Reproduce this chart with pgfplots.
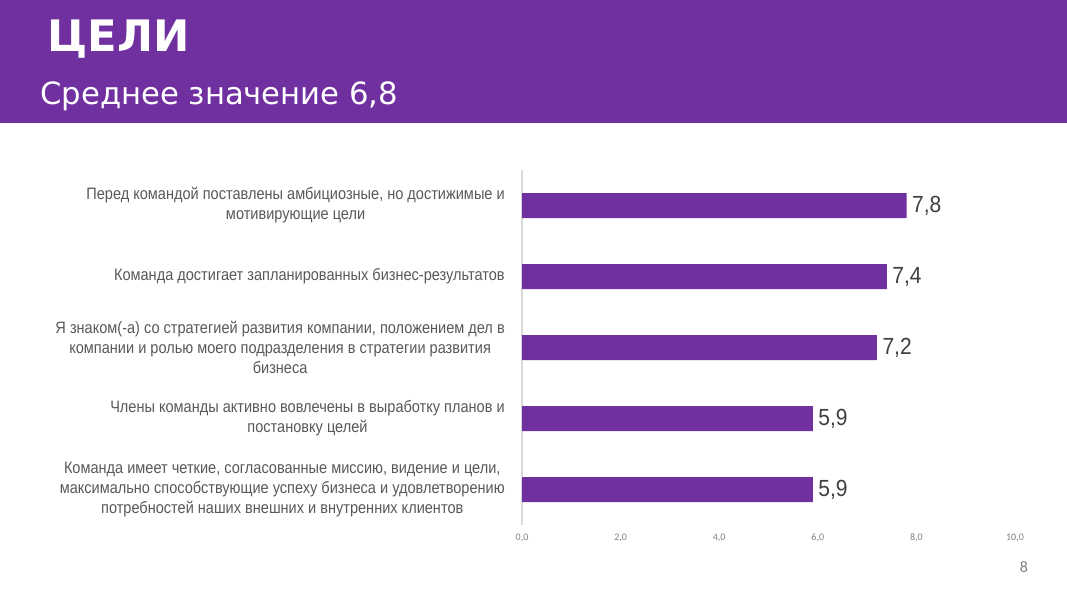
\documentclass[border=0pt]{standalone}
\usepackage{fontspec}
\usepackage{pgfplots}
\pgfplotsset{compat=1.18}
\setmainfont{Liberation Sans}
\newfontfamily\narrowfont[FakeStretch=0.88]{Liberation Sans}
\newfontfamily\valfont[FakeStretch=0.9]{Liberation Sans}
\newfontfamily\titlefont{DejaVu Sans}
\newfontfamily\tickfont{Carlito}
\definecolor{barpurple}{HTML}{7030A0}
\definecolor{labelgray}{HTML}{595959}
\definecolor{valgray}{HTML}{404040}
\definecolor{tickgray}{HTML}{808080}

\begin{document}
\begin{tikzpicture}
  % canvas 1067x600 px, 1px = 0.75pt
  \fill[white] (0,0) rectangle (800.25pt,450pt);
  \fill[barpurple] (0,357.75pt) rectangle (800.25pt,450pt);
  \node[anchor=base west, inner sep=0pt, text=white, font=\titlefont\bfseries\fontsize{32.5}{38}\selectfont]
    at (35.25pt,411pt) {ЦЕЛИ};
  \node[anchor=base west, inner sep=0pt, text=white, font=\titlefont\fontsize{23}{27}\selectfont]
    at (30pt,371.25pt) {Среднее значение 6,8};
  \node[text=tickgray, font=\tickfont\fontsize{12}{14}\selectfont] at (768pt,24.75pt) {8};

  \begin{axis}[
    at={(391.5pt,56.25pt)},
    anchor=south west,
    scale only axis,
    width=369.75pt,
    height=266.25pt,
    xbar,
    bar width=18.75pt,
    xmin=0, xmax=10,
    ymin=-0.5, ymax=4.5,
    xtick={0,2,4,6,8,10},
    ytick={0,1,2,3,4},
    yticklabels={
      {Команда имеет четкие, согласованные миссию, видение и цели,\\максимально способствующие успеху бизнеса и удовлетворению\\потребностей наших внешних и внутренних клиентов},
      {Члены команды активно вовлечены в выработку планов и\\постановку целей},
      {Я знаком(-а) со стратегией развития компании, положением дел в\\компании и ролью моего подразделения в стратегии развития\\бизнеса},
      {Команда достигает запланированных бизнес-результатов},
      {Перед командой поставлены амбициозные, но достижимые и\\мотивирующие цели}
    },
    axis x line*=bottom,
    axis y line*=left,
    x axis line style={draw=none},
    y axis line style={draw=black!15, line width=0.8pt, -},
    major tick length=0pt,
    xticklabel style={text=tickgray, font=\tickfont\fontsize{7.5}{9}\selectfont, yshift=-3pt},
    /pgf/number format/.cd, fixed, fixed zerofill, precision=1, use comma, assume math mode=true,
    /pgfplots/.cd,
    yticklabel style={align=center, inner sep=0pt, xshift=-12.75pt, text=labelgray,
      font=\narrowfont\fontsize{12.4}{15}\selectfont},
    nodes near coords,
    nodes near coords style={anchor=west, inner sep=0pt, xshift=4pt, text=valgray,
      font=\valfont\fontsize{17.5}{20}\selectfont},
  ]
    \addplot[fill=barpurple, draw=none] coordinates {
      (5.9,0)
      (5.9,1)
      (7.2,2)
      (7.4,3)
      (7.8,4)
    };
  \end{axis}
\end{tikzpicture}
\end{document}
